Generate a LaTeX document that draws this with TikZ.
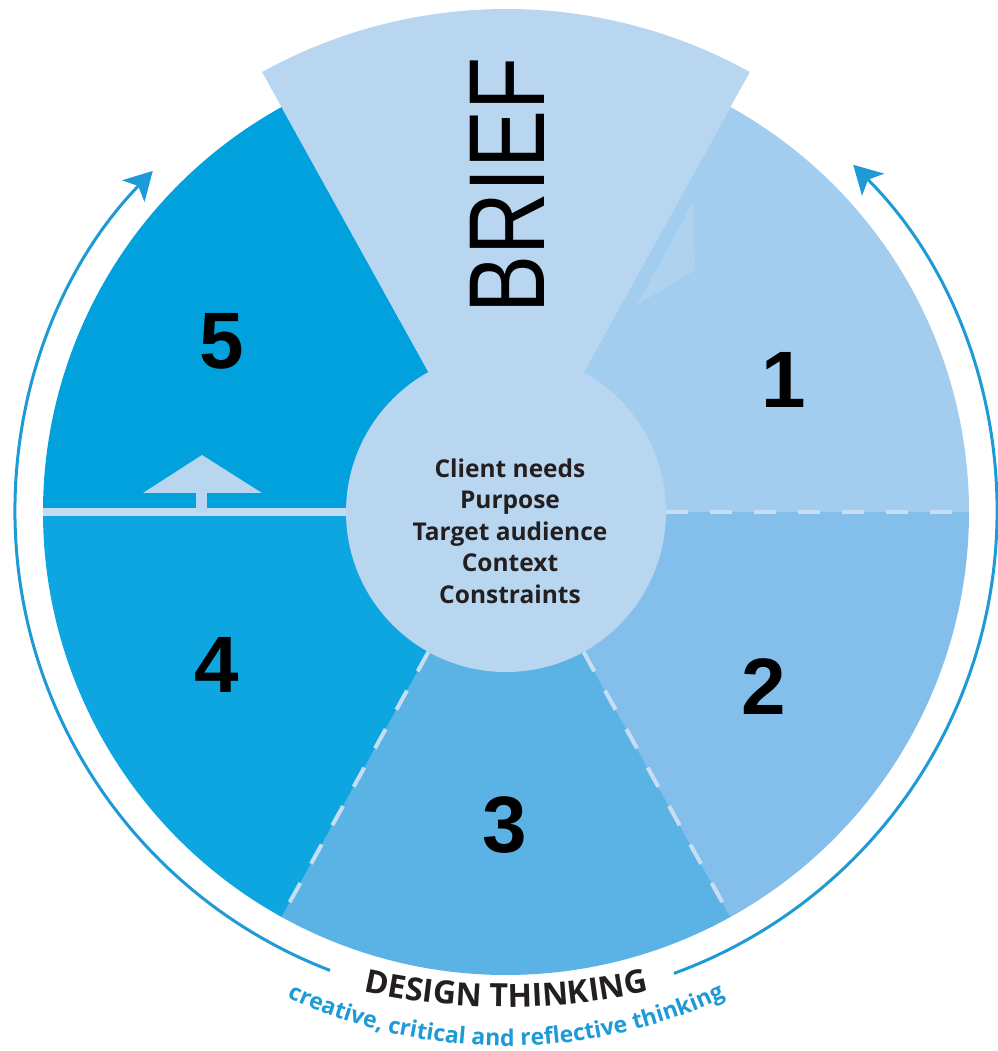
\documentclass[tikz,border=0pt]{standalone}
\usepackage{fontspec}
\usepackage{graphicx}
\usetikzlibrary{arrows.meta, decorations.text}
\newfontfamily\numfont{Liberation Sans}
\newfontfamily\humfont{Open Sans}
\definecolor{briefblue}{HTML}{B9D6F0}
\definecolor{stepone}{HTML}{A2CDEE}
\definecolor{steptwo}{HTML}{83BFEA}
\definecolor{stepthree}{HTML}{5BB2E4}
\definecolor{stepfour}{HTML}{0DA6E0}
\definecolor{stepfive}{HTML}{00A1DD}
\definecolor{cyclearc}{HTML}{1E9AD6}
\definecolor{dashline}{HTML}{C6DEF4}
\definecolor{darktext}{HTML}{231F20}
\tikzset{
  number/.style={font=\numfont\bfseries\fontsize{80}{80}\selectfont, inner sep=0pt}, % the step numbers
  divider/.style={dashline, line width=4pt, dash pattern=on 22pt off 22pt}, % dashed borders between steps
  cycle arrow/.style={cyclearc, line width=3pt, -{Stealth[length=28pt, width=31pt, inset=7pt]}}, % outer arrows
}

\begin{document}
\begin{tikzpicture}[x=1pt, y=1pt]
  \useasboundingbox (-506,-539) rectangle (491,512);
  \coordinate (O) at (0,0);

  % the five steps
  \fill[stepone]   (O) -- (0:463)   arc[start angle=0,   end angle=61,  radius=463] -- cycle;
  \fill[steptwo]   (O) -- (-61:463) arc[start angle=-61, end angle=0,   radius=463] -- cycle;
  \fill[stepthree] (O) -- (241:463) arc[start angle=241, end angle=299, radius=463] -- cycle;
  \fill[stepfour]  (O) -- (180:463) arc[start angle=180, end angle=241, radius=463] -- cycle;
  \fill[stepfive]  (O) -- (119:463) arc[start angle=119, end angle=180, radius=463] -- cycle;
  % the brief
  \fill[briefblue] (O) -- (61:503)  arc[start angle=61,  end angle=119, radius=503] -- cycle;
  \fill[briefblue!55!stepone] (187,310) -- (189,242) -- (131,207) -- cycle;
  \node[circle, fill=briefblue, minimum size=320, inner sep=0pt] (core) at (O) {};

  \coordinate (rim12) at (0:463);
  \coordinate (rim23) at (-61:463);
  \coordinate (rim34) at (241:463);
  \coordinate (rim45) at (180:463);
  \draw[divider] (core.east) -- (rim12);
  \draw[divider] (core.-61) -- (rim23);
  \draw[divider] (core.241) -- (rim34);
  \draw[briefblue!85!white, line width=8pt] (core.west) -- (rim45);
  \fill[briefblue] (-363,19) -- (-304,57) -- (-244,19) -- cycle;
  \fill[briefblue] (-310,0) rectangle (-299,19);

  \node[rotate=90, inner sep=0pt, font=\numfont\fontsize{108}{108}\selectfont] (brief) at (1,327) {\scalebox{0.805}[1]{BRIEF}};
  \node[align=center, text=darktext, font=\humfont\bfseries\fontsize{24.5}{31.5}\selectfont] (needs) at (4,-19)
    {Client needs\\Purpose\\Target audience\\Context\\Constraints};

  \node[number] (one)   at (278,132)  {1};
  \node[number] (two)   at (258,-175) {2};
  \node[number] (three) at (-1,-313)  {3};
  \node[number] (four)  at (-289,-153) {4};
  \node[number] (five)  at (-284,171) {5};

  % the cycle round the wheel
  \coordinate (cycleleft) at (249:491);
  \coordinate (cycleright) at (-70:491);
  \draw[cycle arrow] (cycleleft) arc[start angle=249, end angle=136, radius=491];
  \draw[cycle arrow] (cycleright) arc[start angle=-70, end angle=45, radius=491];

  \path[decorate, decoration={text along path, text align=center,
      text={|\humfont\bfseries\fontsize{32}{32}\selectfont\color{darktext}|DESIGN THINKING}}]
    ([shift={(0,160)}]248:655) arc[start angle=248, end angle=292, radius=655];
  \path[decorate, decoration={text along path, text align=center,
      text={|\humfont\bfseries\fontsize{23}{23}\selectfont\color{cyclearc}|creative, critical and reflective thinking}}]
    ([shift={(0,-17)}]235:517) arc[start angle=235, end angle=305, radius=517];
\end{tikzpicture}
\end{document}
